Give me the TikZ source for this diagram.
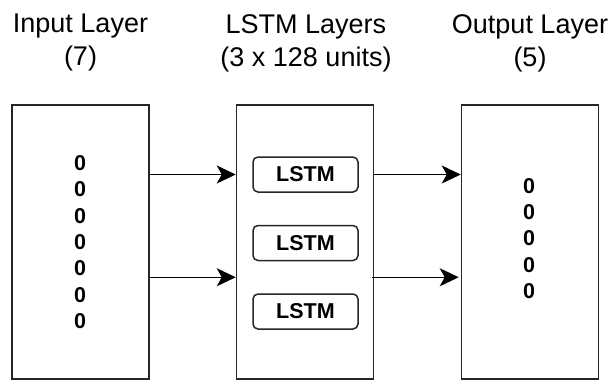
\documentclass[tikz,border=0pt]{standalone}
\usepackage{fontspec}
\setmainfont{Liberation Sans}
\usetikzlibrary{arrows.meta,calc}
\begin{document}
\begin{tikzpicture}[x=1pt,y=-1pt,
  layerbox/.style={draw=black!85,line width=1.5pt,minimum width=137pt,minimum height=274pt,inner sep=0pt},
  cellbox/.style={draw=black!85,line width=1.5pt,rounded corners=5pt,minimum width=105pt,minimum height=35pt,inner sep=0pt,font=\fontsize{21.5}{26}\selectfont\bfseries},
  title/.style={anchor=north,align=center,inner sep=0pt,font=\fontsize{27}{33}\selectfont},
  digits/.style={align=center,inner sep=0pt,font=\fontsize{21.5}{26.4}\selectfont\bfseries},
  arr/.style={line width=1.5pt,draw=black,-{Stealth[length=19pt,width=18pt,inset=5pt]}}]
\useasboundingbox (0,0) rectangle (611,381);
% boxes
\node[layerbox] (in)  at (80.5,242) {};
\node[layerbox] (mid) at (305,242) {};
\node[layerbox] (out) at (530,242) {};
% titles
\node[title] (tin)  at (80.5,14) {Input Layer\\(7)};
\node[title] (tmid) at (306,14) {LSTM Layers\\(3 x 128 units)};
\node[title] (tout) at (530,14) {Output Layer\\(5)};
% digits
\node[digits] (din)  at (80,242) {0\\0\\0\\0\\0\\0\\0};
\node[digits] (dout) at (529,238.5) {0\\0\\0\\0\\0};
% LSTM cells
\node[cellbox] (l1) at (305.5,174.5) {LSTM};
\node[cellbox] (l2) at (305.5,243) {LSTM};
\node[cellbox] (l3) at (305.5,311.5) {LSTM};
\coordinate (m23) at ($(l2.center)!0.5!(l3.center)$);
% connectors
\draw[arr] (in.east |- l1.center) -- (mid.west |- l1.center);
\draw[arr] (in.east |- m23) -- (mid.west |- m23);
\draw[arr] (mid.east |- l1.center) -- (out.west |- l1.center);
\draw[arr] ([xshift=-2pt]mid.east |- m23) -- ([xshift=-2pt]out.west |- m23);
\end{tikzpicture}
\end{document}
